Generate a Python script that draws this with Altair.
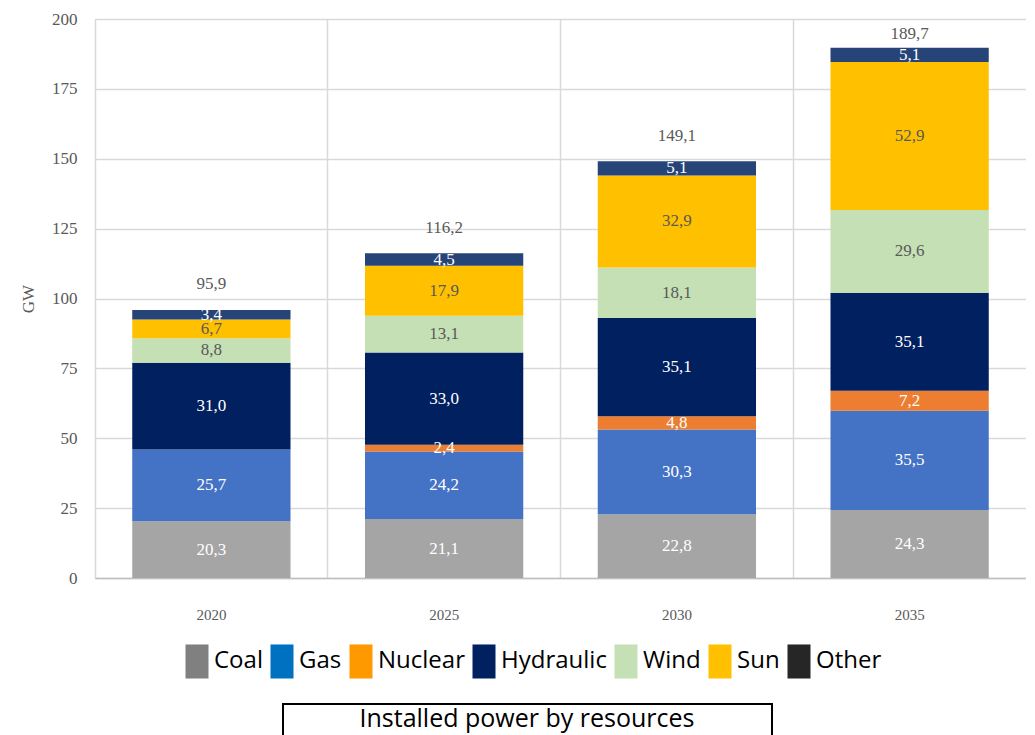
import altair as alt
import pandas as pd

years = ["2020", "2025", "2030", "2035"]
resources = ["Coal", "Gas", "Nuclear", "Hydraulic", "Wind", "Sun", "Other"]
coal = [20.3, 21.1, 22.8, 24.3]
gas = [25.7, 24.2, 30.3, 35.5]
nuclear = [0.0, 2.4, 4.8, 7.2]
hydraulic = [31.0, 33.0, 35.1, 35.1]
wind = [8.8, 13.1, 18.1, 29.6]
sun = [6.7, 17.9, 32.9, 52.9]
other = [3.4, 4.5, 5.1, 5.1]
totals = [95.9, 116.2, 149.1, 189.7]
y_ticks = [0, 25, 50, 75, 100, 125, 150, 175, 200]

bar_colors = ["#A5A5A5", "#4472C4", "#ED7D31", "#002060", "#C5E0B4", "#FFC000", "#264478"]
legend_colors = ["#808080", "#0070C0", "#FF9900", "#002060", "#C5E0B4", "#FFC000", "#262626"]
label_colors = ["white", "white", "white", "white", "#595959", "#595959", "white"]

series = [coal, gas, nuclear, hydraulic, wind, sun, other]


def fmt(v):
    return f"{v:.1f}".replace(".", ",")


rows = []
for ri, (name, vals) in enumerate(zip(resources, series)):
    for yi, y in enumerate(years):
        rows.append({
            "Year": y, "Resource": name, "Value": vals[yi], "Order": ri,
            "Label": fmt(vals[yi]) if vals[yi] > 0 else "",
            "LabelColor": label_colors[ri],
        })
df = pd.DataFrame(rows)
tot_df = pd.DataFrame({"Year": years, "Total": totals, "Label": [fmt(t) for t in totals]})
box_df = pd.DataFrame({"t": ["Installed power by resources"]})

W, H = 931, 559
PI = 0.32
PO = PI / 2

xenc = alt.X("Year:N", title=None, sort=years,
             scale=alt.Scale(paddingInner=PI, paddingOuter=PO),
             axis=alt.Axis(labelFont="Liberation Serif", labelFontSize=15, labelColor="#595959",
                           labelPadding=29, ticks=False, domain=True, domainColor="#bfbfbf",
                           domainWidth=1.5, grid=True, bandPosition=-PO / (1 - PI),
                           gridColor="#d9d9d9", gridWidth=1.5, labelAngle=0))
yscale = alt.Scale(domain=[0, 200], nice=False)

base = alt.Chart(df)

bars = base.mark_bar().encode(
    x=xenc,
    y=alt.Y("Value:Q", stack="zero", scale=yscale, title="GW",
            axis=alt.Axis(values=y_ticks, labelFont="Liberation Serif", labelFontSize=17,
                          labelColor="#595959", labelPadding=18, ticks=False, domain=False,
                          gridColor="#d9d9d9", gridWidth=1.5, titleFont="Liberation Serif",
                          titleFontSize=17, titleColor="#595959", titleFontWeight="normal",
                          titlePadding=14)),
    color=alt.Color("Resource:N", sort=resources,
                    scale=alt.Scale(domain=resources, range=bar_colors), legend=None),
    order=alt.Order("Order:Q", sort="ascending"),
)

labels = base.transform_stack(
    stack="Value", groupby=["Year"], as_=["v0", "v1"], sort=[alt.SortField("Order", "ascending")]
).transform_calculate(mid="(datum.v0 + datum.v1) / 2").transform_filter("datum.Value > 0").mark_text(
    font="Liberation Serif", fontSize=17, baseline="middle"
).encode(
    x=alt.X("Year:N", sort=years),
    y=alt.Y("mid:Q", scale=yscale),
    text="Label:N",
    color=alt.Color("LabelColor:N", scale=None),
)

tot = alt.Chart(tot_df).transform_calculate(
    ly="min(datum.Total + 9.2, 194.6)"
).mark_text(
    font="Liberation Serif", fontSize=17, color="#595959", baseline="middle"
).encode(
    x=alt.X("Year:N", sort=years),
    y=alt.Y("ly:Q", scale=yscale),
    text="Label:N",
)

legend_layer = base.mark_point(filled=True, opacity=0).encode(
    x=alt.X("Year:N", sort=years),
    y=alt.Y("Value:Q", scale=yscale, stack="zero"),
    fill=alt.Fill("Resource:N", sort=resources,
                  scale=alt.Scale(domain=resources, range=legend_colors),
                  legend=alt.Legend(title=None, orient="none", legendX=90, legendY=630,
                                    direction="horizontal",
                                    symbolType="M-1,-1.48H1V1.48H-1Z",
                                    symbolSize=529, symbolOpacity=1, symbolStrokeWidth=0,
                                    labelFont="Open Sans", labelFontSize=24, labelColor="black",
                                    labelOffset=5, columnPadding=7, labelLimit=300)),
)

box = alt.Chart(box_df).mark_rect(fill="white", stroke="black", strokeWidth=2).encode(
    x=alt.value(188), x2=alt.value(677), y=alt.value(685), y2=alt.value(730)
)
box_text = alt.Chart(box_df).mark_text(
    font="Open Sans", fontSize=25, color="black", baseline="middle"
).encode(x=alt.value(432), y=alt.value(700), text="t:N")

chart = alt.layer(bars, labels, tot, legend_layer, box, box_text).resolve_scale(
    color="independent", fill="independent"
).properties(
    width=W, height=H, padding={"left": 11, "top": 2, "right": 0, "bottom": 0}
).configure_view(stroke=None).configure(background="white")

chart.save("out.html", embed_options={"renderer": "svg", "actions": False})
